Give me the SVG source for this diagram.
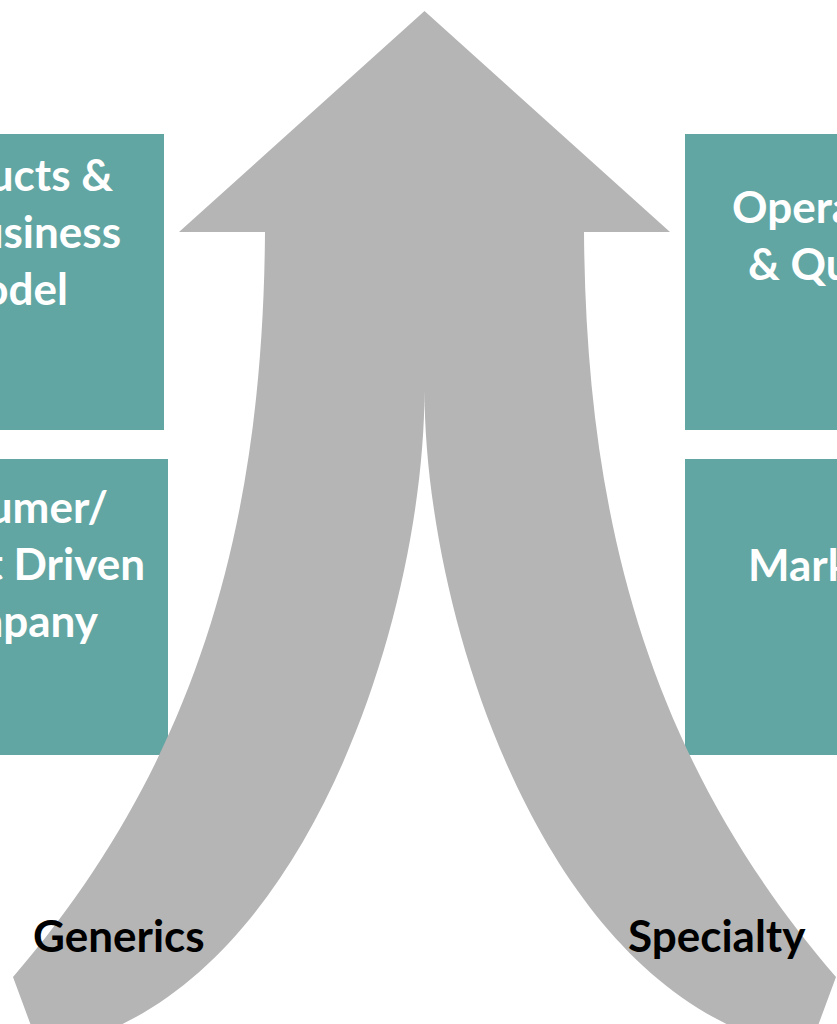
<svg xmlns="http://www.w3.org/2000/svg" width="837" height="1024" viewBox="0 0 837 1024">
  <style>
    .box { fill: #62a6a3; }
    .boxtxt { font-family: Lato, "Open Sans", "Liberation Sans", sans-serif; font-weight: 700; font-size: 44px; fill: #ffffff; }
    .lbl { font-family: Lato, "Open Sans", "Liberation Sans", sans-serif; font-weight: 700; font-size: 44px; fill: #000000; }
    .arrow { fill: #b5b5b5; }
  </style>

  <!-- left column -->
  <g id="products-business-model">
    <rect class="box" x="-140" y="134" width="304" height="296"/>
    <text class="boxtxt" text-anchor="end" x="113" y="191">Products &amp;</text>
    <text class="boxtxt" text-anchor="end" x="121" y="248">Business</text>
    <text class="boxtxt" text-anchor="end" x="68" y="305">Model</text>
  </g>
  <g id="consumer-market-driven">
    <rect class="box" x="-140" y="459" width="308" height="296"/>
    <text class="boxtxt" text-anchor="end" x="108" y="523">Consumer/</text>
    <text class="boxtxt" text-anchor="end" x="145" y="580">Market Driven</text>
    <text class="boxtxt" text-anchor="end" x="98" y="637">Company</text>
  </g>

  <!-- right column -->
  <g id="operations-quality">
    <rect class="box" x="685" y="134" width="300" height="296"/>
    <text class="boxtxt" x="732" y="223">Operations</text>
    <text class="boxtxt" x="748" y="280">&amp; Quality</text>
  </g>
  <g id="marketing">
    <rect class="box" x="685" y="459" width="300" height="296"/>
    <text class="boxtxt" x="748" y="581">Marketing</text>
  </g>

  <!-- merging arrow: two curved branches joining into one upward head -->
  <g id="connectors">
    <path class="arrow" d="M424.5,11 L670,232 L584,232 C586,520 649,760 836,977 L809,1050 C549,1010 424.5,620 424.5,390 C424.5,620 300,1010 40,1050 L13,977 C200,760 263,520 265,232 L179,232 Z"/>
  </g>

  <g id="generics">
    <text class="lbl" x="33" y="952">Generics</text>
  </g>
  <g id="specialty">
    <text class="lbl" x="628" y="952">Specialty</text>
  </g>
</svg>
